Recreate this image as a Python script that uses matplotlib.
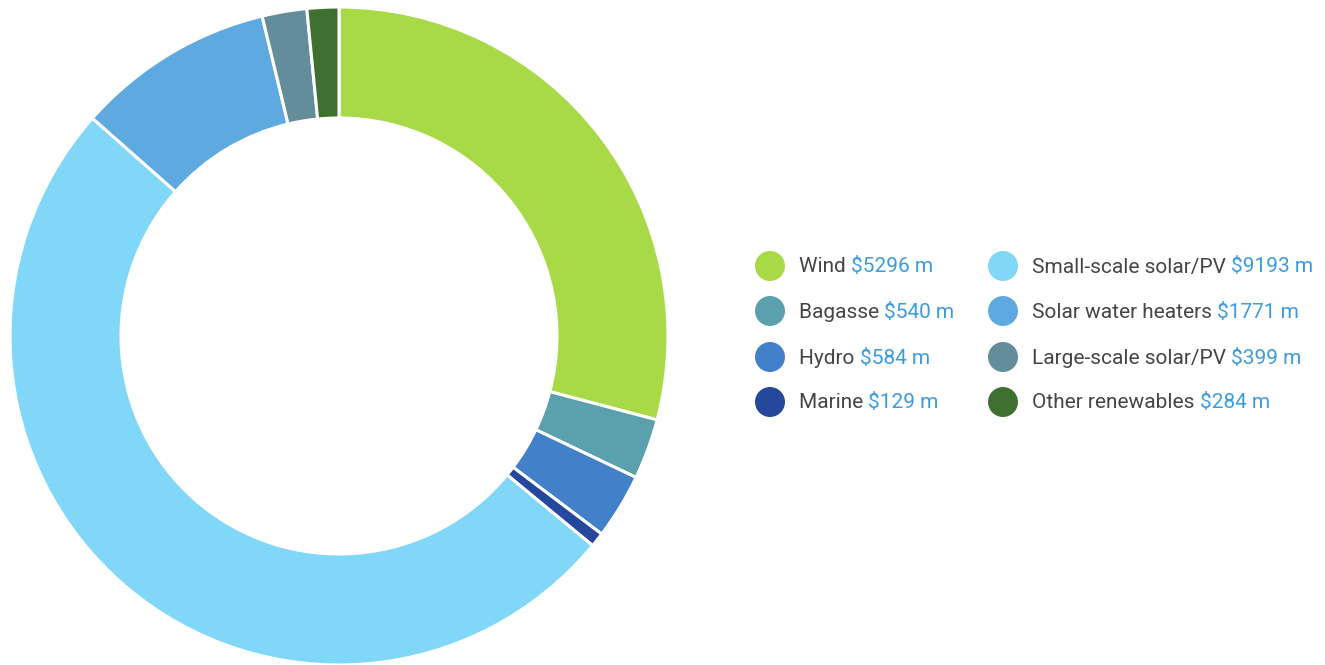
import matplotlib
matplotlib.use("Agg")
import matplotlib.pyplot as plt
import matplotlib.transforms as mtransforms
from matplotlib.patches import Circle

categories = ["Wind", "Bagasse", "Hydro", "Marine", "Small-scale solar/PV",
              "Solar water heaters", "Large-scale solar/PV", "Other renewables"]
values = [5296, 540, 584, 129, 9193, 1771, 399, 284]
value_labels = ["$5296 m", "$540 m", "$584 m", "$129 m", "$9193 m",
                "$1771 m", "$399 m", "$284 m"]
colors = ["#a8da47", "#5aa0ad", "#4280c9", "#26489c", "#80d7f7",
          "#5ea9df", "#648d9b", "#3e7131"]

W, H = 1325, 665
fig = plt.figure(figsize=(W / 100, H / 100), dpi=100)
plt.rcParams['font.family'] = ['Roboto', 'DejaVu Sans']

cx, cy, R = 339, 336, 329
ax = fig.add_axes([(cx - R) / W, (H - cy - R) / H, 2 * R / W, 2 * R / H])
ax.pie(values, colors=colors, startangle=90, counterclock=False, radius=1,
       wedgeprops=dict(width=(329 - 218) / 329, edgecolor="white", linewidth=2.2))
ax.set_xlim(-1, 1)
ax.set_ylim(-1, 1)
ax.set_aspect("equal")
ax.axis("off")

ov = fig.add_axes([0, 0, 1, 1])
ov.set_xlim(0, W)
ov.set_ylim(H, 0)
ov.axis("off")

col_x = [770, 1003]
row_y = [266, 311, 357, 402]
fs = 15
fig.canvas.draw()
renderer = fig.canvas.get_renderer()
blend = mtransforms.blended_transform_factory(mtransforms.IdentityTransform(), ov.transData)
for i, (cat, val, c) in enumerate(zip(categories, value_labels, colors)):
    col = i // 4
    row = i % 4
    x = col_x[col]
    y = row_y[row]
    ov.add_patch(Circle((x, y), 15, color=c, lw=0))
    t = ov.text(x + 29, y + 1, cat + " ", fontsize=fs, color="#454545",
                va="center", ha="left")
    bb = t.get_window_extent(renderer=renderer)
    ov.text(bb.x1, y + 1, val, fontsize=fs, color="#3b9de0",
            va="center", ha="left", transform=blend)

fig.savefig("out.png", dpi=100)
